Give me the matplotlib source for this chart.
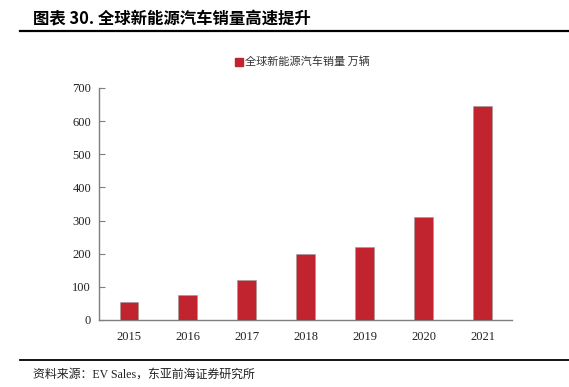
import matplotlib
matplotlib.use("Agg")
import matplotlib.pyplot as plt
from matplotlib.lines import Line2D

years = ["2015", "2016", "2017", "2018", "2019", "2020", "2021"]
sales = [54, 75, 121, 200, 221, 311, 646]
yticks = [0, 100, 200, 300, 400, 500, 600, 700]

title = "图表 30. 全球新能源汽车销量高速提升"
legend_label = "全球新能源汽车销量 万辆"
source = "资料来源：EV Sales，东亚前海证券研究所"

W, H = 569, 387
fig = plt.figure(figsize=(W / 100, H / 100), dpi=100)

cjk = ["Noto Sans CJK SC", "DejaVu Sans"]
serif_cjk = ["Liberation Serif", "Noto Sans CJK SC"]

ax = fig.add_axes([99.5 / W, 1 - 320 / H, (512 - 99.5) / W, (320 - 88) / H])
x = list(range(len(years)))
ax.bar(x, sales, width=0.32, color="#C1232F", edgecolor="#9a9a9a", linewidth=0.4, zorder=3)
ax.set_xlim(-0.5, len(years) - 0.5)
ax.set_ylim(0, 700)
ax.set_yticks(yticks)
ax.set_xticks(x)
ax.set_xticklabels(years, fontfamily="Liberation Serif", fontsize=9, color="#222222")
ax.set_yticklabels([str(v) for v in yticks], fontfamily="Liberation Serif", fontsize=9,
                   color="#222222")
for s in ["top", "right"]:
    ax.spines[s].set_visible(False)
for s in ["left", "bottom"]:
    ax.spines[s].set_color("#7f7f7f")
    ax.spines[s].set_linewidth(1.0)
ax.tick_params(axis="y", direction="in", length=4, color="#7f7f7f", pad=6)
ax.tick_params(axis="x", length=0, pad=8)

handle = Line2D([], [], marker="s", linestyle="none", markersize=6,
                markerfacecolor="#C1232F", markeredgecolor="#C1232F")
fig.legend([handle], [legend_label], loc="center", bbox_to_anchor=(302 / W, 1 - 62 / H),
           frameon=False, prop={"family": cjk, "size": 8}, handletextpad=0.1,
           handlelength=0.8, labelcolor="#333333")

fig.text(33 / W, 1 - 19 / H, title, fontsize=11.8, fontweight="bold",
         family=cjk, va="center", ha="left")
fig.add_artist(Line2D([20 / W, 1], [1 - 31 / H, 1 - 31 / H], color="black", linewidth=1.6))
fig.add_artist(Line2D([20 / W, 1], [1 - 360 / H, 1 - 360 / H], color="black", linewidth=1.3))
fig.text(33 / W, 1 - 375 / H, source, fontsize=8.6, family=serif_cjk, va="center", ha="left",
         color="#222222")

fig.savefig("out.png", dpi=100)
